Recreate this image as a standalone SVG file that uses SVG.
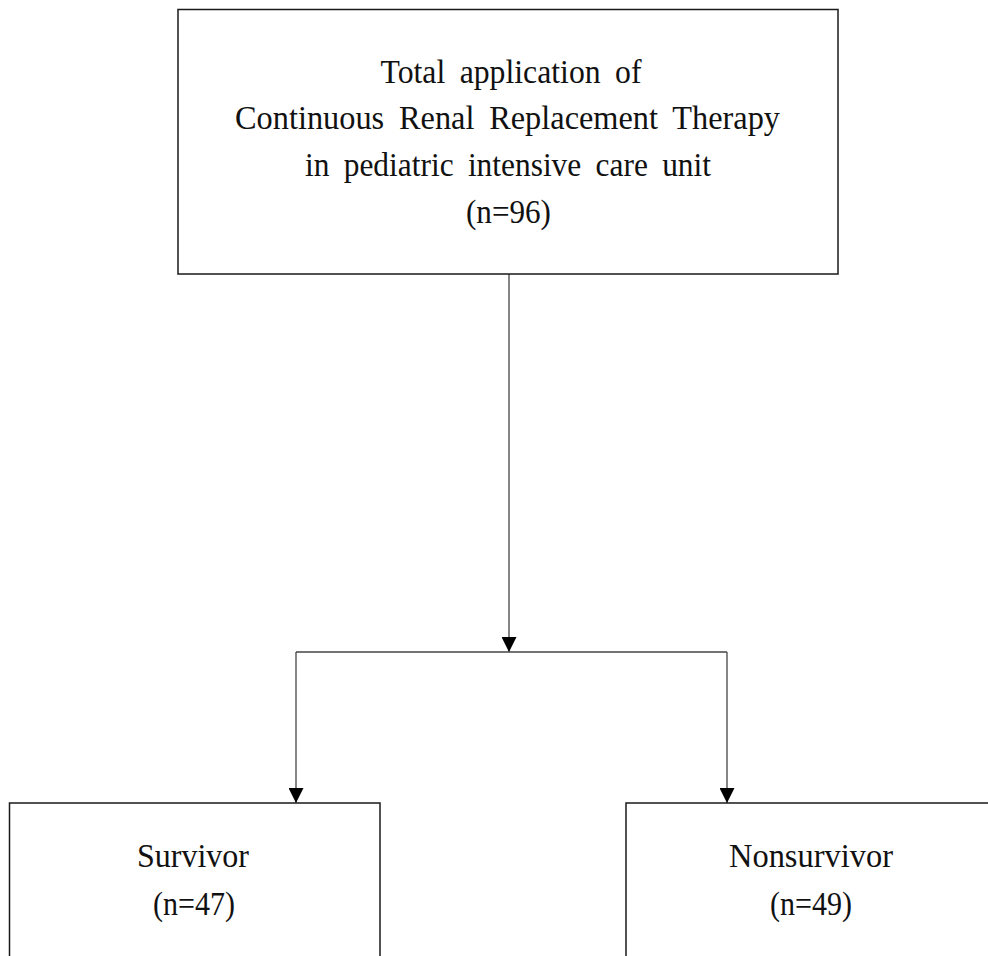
<svg xmlns="http://www.w3.org/2000/svg" width="988" height="956" viewBox="0 0 988 956">
  <style>
    .box { fill: #ffffff; stroke: #1a1a1a; stroke-width: 1.5; }
    .lbl { font-family: "Liberation Serif", "Times New Roman", serif; font-size: 34px; fill: #111111; text-anchor: middle; word-spacing: 7px; }
    .conn { fill: none; stroke: #444444; stroke-width: 1.3; }
  </style>
  <defs>
    <marker id="arrow" markerUnits="userSpaceOnUse" markerWidth="15" markerHeight="15" refX="15" refY="7.5" orient="auto">
      <path d="M0,0 L15,7.5 L0,15 z" fill="#000000"/>
    </marker>
  </defs>
  <rect width="988" height="956" fill="#ffffff"/>
  <g id="connectors">
    <line class="conn" x1="509" y1="274" x2="509" y2="652" marker-end="url(#arrow)"/>
    <polyline class="conn" points="296,652 727,652"/>
    <line class="conn" x1="296" y1="652" x2="296" y2="803" marker-end="url(#arrow)"/>
    <line class="conn" x1="727" y1="652" x2="727" y2="803" marker-end="url(#arrow)"/>
  </g>
  <g id="node-total">
    <rect class="box" x="178" y="9.5" width="660" height="264.5"/>
    <text class="lbl" x="511" y="83" textLength="261" lengthAdjust="spacingAndGlyphs">Total application of</text>
    <text class="lbl" x="507.5" y="129" textLength="545" lengthAdjust="spacingAndGlyphs">Continuous Renal Replacement Therapy</text>
    <text class="lbl" x="508" y="176" textLength="406" lengthAdjust="spacingAndGlyphs">in pediatric intensive care unit</text>
    <text class="lbl" x="508.5" y="223" textLength="85" lengthAdjust="spacingAndGlyphs">(n=96)</text>
  </g>
  <g id="node-survivor">
    <rect class="box" x="9.5" y="803" width="370.5" height="170"/>
    <text class="lbl" x="193" y="867" textLength="112" lengthAdjust="spacingAndGlyphs">Survivor</text>
    <text class="lbl" x="194" y="915" textLength="82" lengthAdjust="spacingAndGlyphs">(n=47)</text>
  </g>
  <g id="node-nonsurvivor">
    <rect class="box" x="626" y="803" width="372" height="170"/>
    <text class="lbl" x="811" y="867" textLength="164" lengthAdjust="spacingAndGlyphs">Nonsurvivor</text>
    <text class="lbl" x="811" y="915" textLength="82" lengthAdjust="spacingAndGlyphs">(n=49)</text>
  </g>
</svg>
